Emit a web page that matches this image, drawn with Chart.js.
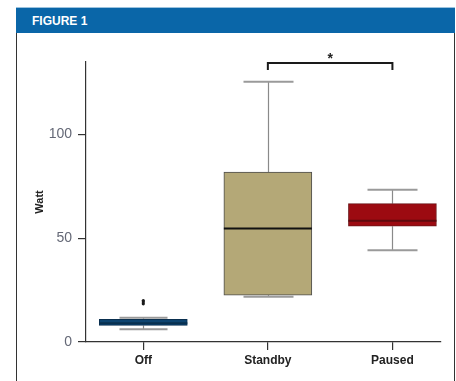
<!DOCTYPE html>
<html>
<head>
<meta charset="utf-8">
<script src="https://cdn.jsdelivr.net/npm/chart.js@4"></script>
<style>
  html, body { margin: 0; padding: 0; background: #fff; }
  #wrap { position: relative; width: 456px; height: 381px; overflow: hidden; }
  #band { position: absolute; left: 16px; top: 7px; width: 439px; height: 26px; background: #0a66a8;
          border-top: 1px solid #9cc3de; box-sizing: border-box; }
  #band span { position: absolute; left: 16px; top: 6px; color: #fff; font: bold 12px "Liberation Sans", Arial, sans-serif; }
  #lineL { position: absolute; left: 16px; top: 33px; width: 1px; height: 348px; background: #333; }
  #lineR { position: absolute; left: 454px; top: 33px; width: 1px; height: 348px; background: #333; }
  canvas { position: absolute; left: 0; top: 0; }
</style>
</head>
<body>
<div id="wrap">
  <div id="band"><span>FIGURE 1</span></div>
  <div id="lineL"></div>
  <div id="lineR"></div>
  <canvas id="c" width="456" height="381"></canvas>
</div>
<script>
// Power draw per device state (W)
const categories  = ['Off', 'Standby', 'Paused'];
const positions   = [1, 2, 3];
const whiskerLow  = [6.1, 21.8, 44.2];
const q1          = [8.0, 22.6, 55.8];
const median      = [9.0, 54.7, 58.5];
const q3          = [10.9, 81.9, 66.7];
const whiskerHigh = [11.7, 125.5, 73.4];
const outliers    = [[18.4, 19.3, 20.0], [], []];
const yTicks      = [0, 50, 100];
const significance = [[2, 3, '*']];

const boxFill   = ['#0d4470', '#b4a877', '#9c0a11'];
const boxEdge   = ['#0a2f4f', '#4d4d4d', '#6b1418'];
const medianCol = ['#08304f', '#111111', '#5e0a0e'];

const FONT = '"Liberation Sans", Arial, sans-serif';

const boxPlugin = {
  id: 'boxParts',
  beforeDatasetsDraw(chart) {
    const ctx = chart.ctx, xs = chart.scales.x, ys = chart.scales.y;
    ctx.save();
    positions.forEach((p, i) => {
      const x = Math.round(xs.getPixelForValue(p)) + 0.5;
      const cap = i === 0 ? 24 : 25;
      ctx.strokeStyle = '#8a8a8a';
      ctx.lineWidth = 1.2;
      ctx.beginPath();
      ctx.moveTo(x, ys.getPixelForValue(whiskerLow[i]));
      ctx.lineTo(x, ys.getPixelForValue(q1[i]));
      ctx.moveTo(x, ys.getPixelForValue(q3[i]));
      ctx.lineTo(x, ys.getPixelForValue(whiskerHigh[i]));
      ctx.stroke();
      ctx.lineWidth = 2;
      ctx.strokeStyle = '#9a9a9a';
      [whiskerLow[i], whiskerHigh[i]].forEach(v => {
        const y = ys.getPixelForValue(v);
        ctx.beginPath();
        ctx.moveTo(x - cap, y);
        ctx.lineTo(x + cap, y);
        ctx.stroke();
      });
    });
    ctx.restore();
  },
  afterDatasetsDraw(chart) {
    const ctx = chart.ctx, xs = chart.scales.x, ys = chart.scales.y;
    const bars = chart.getDatasetMeta(0).data;
    ctx.save();
    positions.forEach((p, i) => {
      const x = xs.getPixelForValue(p);
      const half = bars[i].width / 2;
      const y = ys.getPixelForValue(median[i]);
      ctx.strokeStyle = medianCol[i];
      ctx.lineWidth = 2;
      ctx.beginPath();
      ctx.moveTo(x - half, y);
      ctx.lineTo(x + half, y);
      ctx.stroke();
    });
    // significance bracket
    const top = chart.chartArea.top + 1;
    significance.forEach(([a, b, mark]) => {
      const xa = xs.getPixelForValue(a), xb = xs.getPixelForValue(b);
      ctx.strokeStyle = '#1a1a1a';
      ctx.lineWidth = 2;
      ctx.beginPath();
      ctx.moveTo(xa, top + 7);
      ctx.lineTo(xa, top);
      ctx.lineTo(xb, top);
      ctx.lineTo(xb, top + 7);
      ctx.stroke();
      ctx.fillStyle = '#222';
      ctx.font = 'bold 14px ' + FONT;
      ctx.textAlign = 'center';
      ctx.textBaseline = 'middle';
      ctx.fillText(mark, (xa + xb) / 2, top - 4);
    });
    ctx.restore();
  }
};

const outlierPts = [];
outliers.forEach((list, i) => list.forEach(v => outlierPts.push({ x: positions[i], y: v })));

new Chart(document.getElementById('c'), {
  type: 'bar',
  data: {
    datasets: [{
      type: 'bar',
      data: positions.map((p, i) => ({ x: p, y: [q1[i], q3[i]] })),
      backgroundColor: boxFill,
      borderColor: boxEdge,
      borderWidth: 1,
      borderSkipped: false,
      barThickness: 88
    }, {
      type: 'scatter',
      data: outlierPts,
      pointRadius: 1.6,
      pointBackgroundColor: '#1a1a1a',
      pointBorderWidth: 0
    }]
  },
  options: {
    responsive: false,
    devicePixelRatio: 1,
    animation: false,
    layout: { padding: { left: 29, right: 15, top: 62, bottom: 9 } },
    plugins: { legend: { display: false }, tooltip: { enabled: false } },
    scales: {
      x: {
        type: 'linear',
        min: 0.54,
        max: 3.39,
        offset: false,
        afterBuildTicks: s => { s.ticks = positions.map(v => ({ value: v })); },
        afterFit: s => { s.height = 30; },
        grid: { display: true, offset: false, drawOnChartArea: false, drawTicks: true, tickLength: 8, color: '#333', lineWidth: 1.2 },
        border: { display: true, color: '#333', width: 1.2 },
        ticks: {
          padding: 3,
          color: '#222',
          font: { family: FONT, size: 12, weight: 'bold' },
          callback: v => categories[positions.indexOf(v)] ?? ''
        }
      },
      y: {
        min: 0,
        max: 135,
        afterBuildTicks: s => { s.ticks = yTicks.map(v => ({ value: v })); },
        afterFit: s => { s.width = 57; },
        grid: { display: true, drawOnChartArea: false, drawTicks: true, tickLength: 8, color: '#333', lineWidth: 1.2 },
        border: { display: true, color: '#333', width: 1.2 },
        ticks: { padding: 6, color: '#646876', font: { family: FONT, size: 14 } },
        title: { display: true, text: 'Watt', color: '#222', padding: { top: 4, bottom: 4 }, font: { family: FONT, size: 11, weight: 'bold' } }
      }
    }
  },
  plugins: [boxPlugin]
});
</script>
</body>
</html>
